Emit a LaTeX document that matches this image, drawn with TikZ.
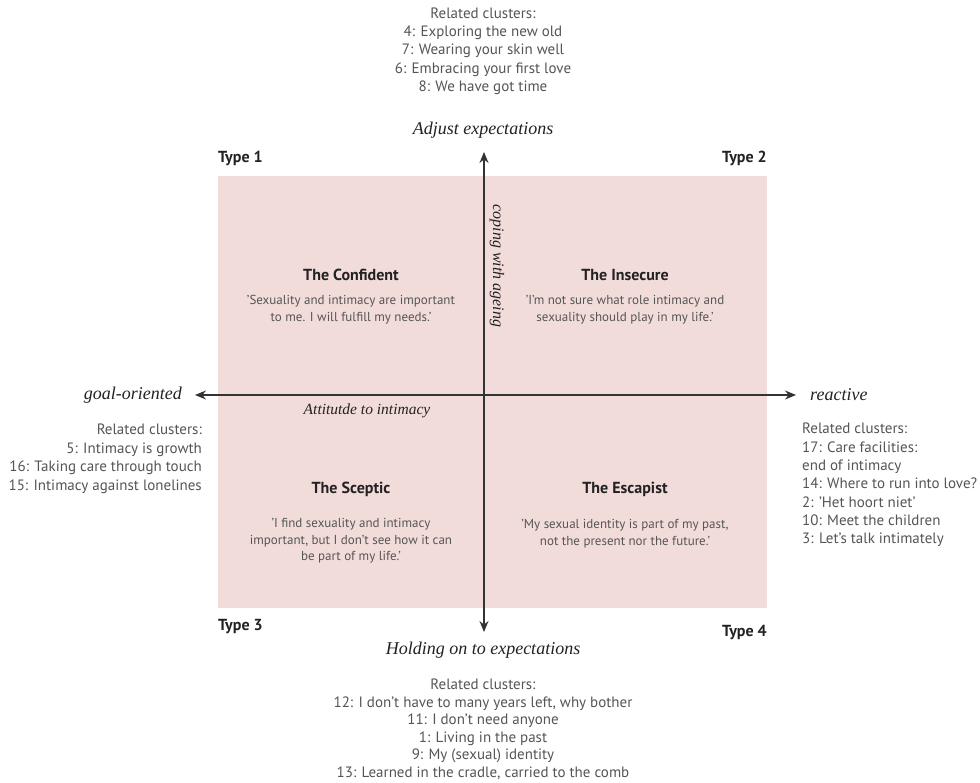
\documentclass[tikz,border=0pt]{standalone}
\usepackage{fontspec}
\setmainfont{Liberation Serif}
\setsansfont{PT Sans}
\usetikzlibrary{arrows.meta}
\definecolor{pinkbg}{HTML}{F2DCDA}
\definecolor{txtgray}{HTML}{555555}
\definecolor{darktxt}{HTML}{222222}
\definecolor{axiscol}{HTML}{333333}
\begin{document}
\begin{tikzpicture}[x=1pt,y=-1pt,
  clus/.style={font=\sffamily\fontsize{15}{18.3}\selectfont, text=txtgray, inner sep=0pt},
  quote/.style={font=\sffamily\fontsize{13}{16.7}\selectfont, text=txtgray, align=center, inner sep=0pt},
  title/.style={font=\sffamily\bfseries\fontsize{16}{18}\selectfont, text=darktxt, inner sep=0pt},
  typelbl/.style={font=\sffamily\bfseries\fontsize{16}{18}\selectfont, text=darktxt, inner sep=0pt},
  axlbl/.style={font=\rmfamily\itshape\fontsize{18}{20}\selectfont, text=darktxt, inner sep=0pt},
  axsub/.style={font=\rmfamily\itshape\fontsize{15.5}{18}\selectfont, text=darktxt, inner sep=0pt},
  axisline/.style={draw=axiscol, line width=1.3pt, {Stealth[length=11pt,width=9pt]}-{Stealth[length=11pt,width=9pt]}}
]
\useasboundingbox (0,0) rectangle (980,783);
\fill[white] (0,0) rectangle (980,783);

% background
\fill[pinkbg] (218,176) rectangle (767,608);

% axes
\coordinate (vtop) at (484,152);
\coordinate (vbot) at (484,632);
\coordinate (hleft) at (195,395);
\coordinate (hright) at (796,395);
\draw[axisline] (vbot) -- (vtop);
\draw[axisline] (hleft) -- (hright);

% axis labels
\node[axlbl] (adjust) at (483,130) {Adjust expectations};
\node[axlbl] (holding) at (483,650) {Holding on to expectations};
\node[axlbl, anchor=east] (goal) at (182,395) {goal-oriented};
\node[axlbl, anchor=west] (reactive) at (810,395) {reactive};
\node[axsub] (attitude) at (367,411) {Attitutde to intimacy};
\node[axsub, font=\rmfamily\itshape\fontsize{16}{18}\selectfont, rotate=-90] (coping) at (497,266) {coping with ageing};

% type labels
\node[typelbl, anchor=west] (t1) at (218,158) {Type 1};
\node[typelbl, anchor=east] (t2) at (767,158) {Type 2};
\node[typelbl, anchor=west] (t3) at (218,627) {Type 3};
\node[typelbl, anchor=east] (t4) at (767,632) {Type 4};

% quadrants
\node[title] (conf) at (351,275) {The Confident};
\node[quote] (confq) at (351,310) {'Sexuality and intimacy are important\\to me. I will fulfill my needs.'};
\node[title] (insec) at (625,275) {The Insecure};
\node[quote] (insecq) at (625,310) {'I'm not sure what role intimacy and\\sexuality should play in my life.'};
\node[title] (scep) at (351,489) {The Sceptic};
\node[quote] (scepq) at (351,541) {'I find sexuality and intimacy\\important, but I don't see how it can\\be part of my life.'};
\node[title] (esc) at (625,489) {The Escapist};
\node[quote] (escq) at (625,533.5) {'My sexual identity is part of my past,\\not the present nor the future.'};

% related clusters
\node[clus, align=center] (ctop) at (483,51) {Related clusters:\\4: Exploring the new old\\7: Wearing your skin well\\6: Embracing your first love\\8: We have got time};
\node[clus, align=right, anchor=east, font=\sffamily\fontsize{15}{18.5}\selectfont] (cleft) at (202,458.7) {Related clusters:\\5: Intimacy is growth\\16: Taking care through touch\\15: Intimacy against lonelines};
\node[clus, align=left, anchor=west] (cright) at (802,485) {Related clusters:\\17: Care facilities:\\end of intimacy\\14: Where to run into love?\\2: 'Het hoort niet'\\10: Meet the children\\3: Let's talk intimately};
\node[clus, align=center, font=\sffamily\fontsize{15}{17.5}\selectfont] (cbot) at (483,729.5) {Related clusters:\\12: I don't have to many years left, why bother\\11: I don't need anyone\\1: Living in the past\\9: My (sexual) identity\\13: Learned in the cradle, carried to the comb};
\end{tikzpicture}
\end{document}
